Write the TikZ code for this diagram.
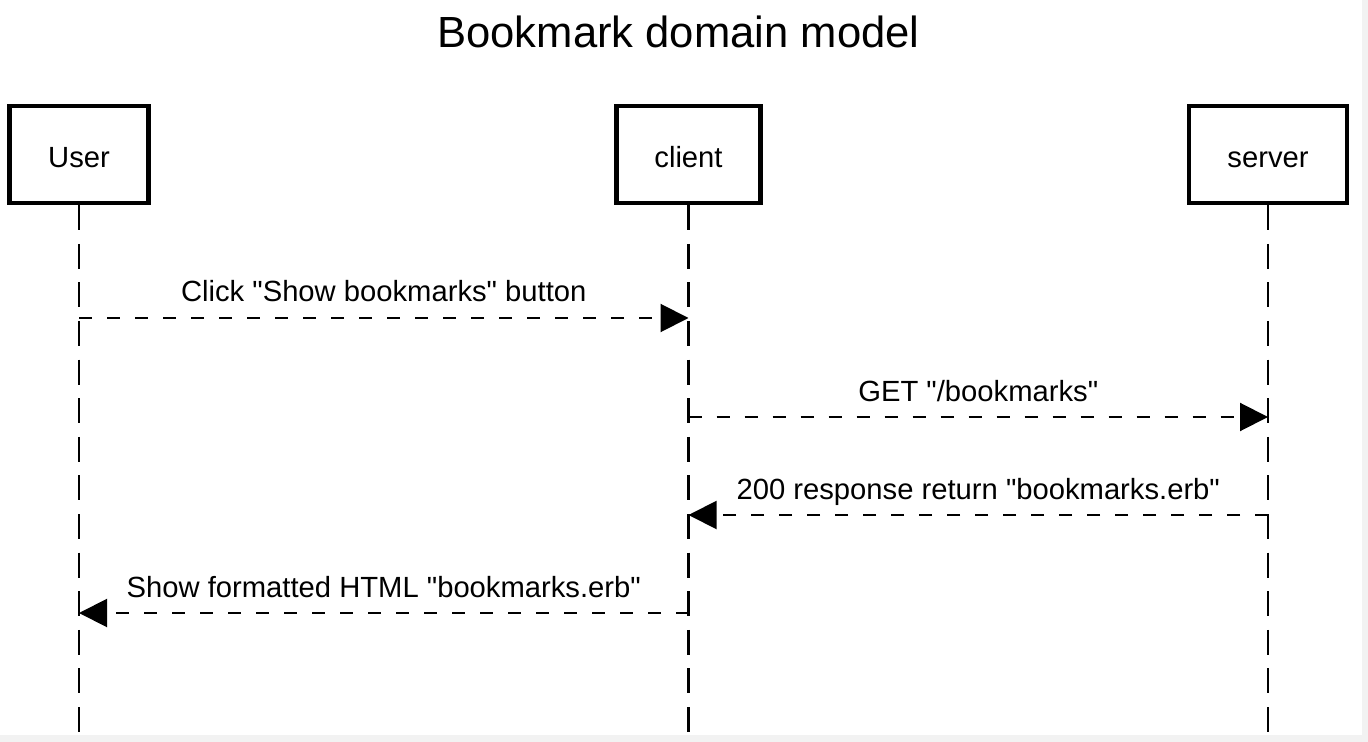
\documentclass[tikz,border=0pt]{standalone}
\usepackage{fontspec}
\setmainfont{Liberation Sans}[Ligatures=TeXOff]
\usetikzlibrary{arrows.meta}
\definecolor{edgegray}{HTML}{F2F2F2}
\begin{document}
\begin{tikzpicture}[x=0.5pt,y=-0.5pt,
  actor/.style={draw, line width=2.2pt, fill=white, inner sep=0pt,
    minimum height=48.5pt, text height=13.5pt, text depth=0pt,
    font=\fontsize{14.6}{17}\selectfont},
  lifeline/.style={line width=1.1pt, dash pattern=on 12.5pt off 6.8pt},
  msg/.style={line width=1pt, dash pattern=on 6.5pt off 7.5pt,
    -{Triangle[length=14pt,width=14pt]}},
  lbl/.style={midway, anchor=base, yshift=8pt, inner sep=0pt,
    font=\fontsize{14.6}{17}\selectfont}
]
\useasboundingbox (0,0) rectangle (1368,742);
\fill[white] (0,0) rectangle (1368,742);
\fill[edgegray] (1362,0) rectangle (1368,742);
\fill[edgegray] (0,735) rectangle (1368,742);

\node[anchor=base, inner sep=0pt, font=\fontsize{21.8}{26}\selectfont] (title) at (678.5,48) {Bookmark domain model};

\node[actor, minimum width=69.5pt] (user) at (79,154.5) {User};
\node[actor, minimum width=72pt] (client) at (688.5,154.5) {client};
\node[actor, minimum width=79pt] (server) at (1268,154.5) {server};

\coordinate (userEnd) at (user.south |- 0,733);
\coordinate (clientEnd) at (client.south |- 0,733);
\coordinate (serverEnd) at (server.south |- 0,733);
\draw[lifeline] (user.south) -- (userEnd);
\draw[lifeline] (client.south) -- (clientEnd);
\draw[lifeline] (server.south) -- (serverEnd);

\coordinate (m1s) at (user.south |- 0,318);
\coordinate (m1e) at (client.south |- 0,318);
\coordinate (m2s) at (client.south |- 0,417);
\coordinate (m2e) at (server.south |- 0,417);
\coordinate (m3s) at (server.south |- 0,515);
\coordinate (m3e) at (client.south |- 0,515);
\coordinate (m4s) at (client.south |- 0,613);
\coordinate (m4e) at (user.south |- 0,613);

\draw[msg] (m1s) -- node[lbl] {Click "Show bookmarks" button} (m1e);
\draw[msg] (m2s) -- node[lbl] {GET "/bookmarks"} (m2e);
\draw[msg] (m3s) -- node[lbl] {200 response return "bookmarks.erb"} (m3e);
\draw[msg] (m4s) -- node[lbl] {Show formatted HTML "bookmarks.erb"} (m4e);
\end{tikzpicture}
\end{document}
